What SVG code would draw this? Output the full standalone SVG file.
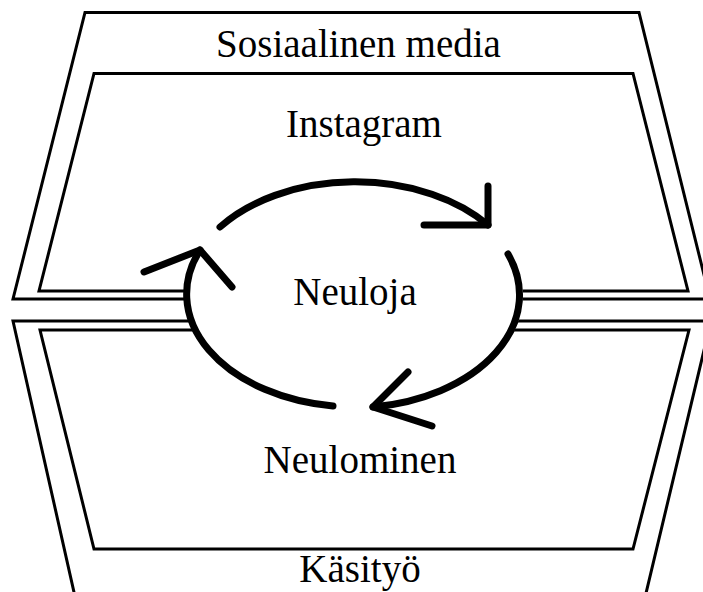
<svg xmlns="http://www.w3.org/2000/svg" width="703" height="592" viewBox="0 0 703 592">
<style>
.frame{fill:none;stroke:#000;stroke-width:3;stroke-linejoin:miter}
.lbl{font-family:"Liberation Serif","Times New Roman",serif;font-size:39px;fill:#000;text-anchor:middle}
.arc{fill:none;stroke:#000;stroke-width:7;stroke-linecap:round;stroke-linejoin:round}
</style>
<rect width="703" height="592" fill="#fff"/>
<g id="sosiaalinen-media">
<polygon class="frame" points="85,12.5 639,12.5 710,299 13,299"/>
<text class="lbl" x="358.5" y="57">Sosiaalinen media</text>
</g>
<g id="instagram">
<polygon class="frame" points="94,73.5 633,73.5 688,291 39,291"/>
<text class="lbl" x="364" y="137">Instagram</text>
</g>
<g id="kasityo">
<polygon class="frame" points="13,321 711,321 642,610 78,610"/>
<text class="lbl" x="360" y="582">Käsityö</text>
</g>
<g id="neulominen">
<polygon class="frame" points="40,330 689,330 633,549 94,549"/>
<text class="lbl" x="360" y="473">Neulominen</text>
</g>
<g id="neuloja">
<ellipse cx="354" cy="295" rx="169" ry="113" fill="#fff"/>
<text class="lbl" x="355" y="305">Neuloja</text>
</g>
<g id="connectors">
<path class="arc" d="M220,227 A169,113 0 0 1 488,225"/>
<polyline class="arc" points="488,186 488,225 424,225"/>
<path class="arc" d="M508,254 A169,113 0 0 1 373,407"/>
<polyline class="arc" points="408,372 373,407 432,426"/>
<path class="arc" d="M333,406 A169,113 0 0 1 200,250"/>
<polyline class="arc" points="144,272 200,250 232,287"/>
</g>
</svg>
